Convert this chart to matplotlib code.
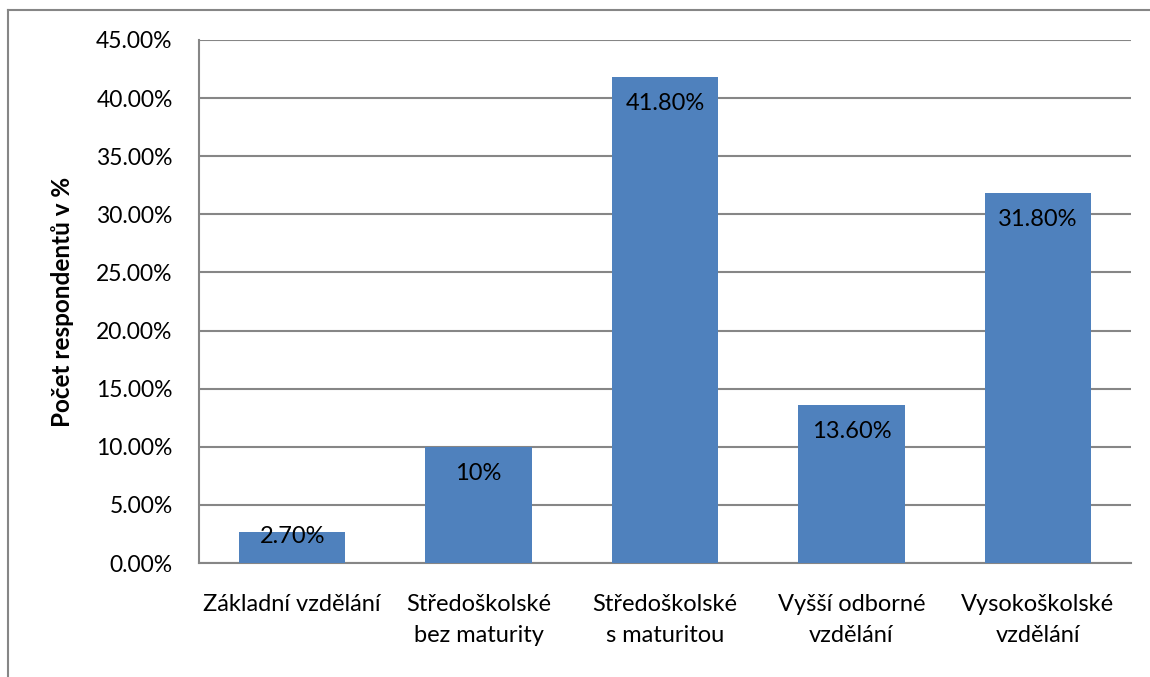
import matplotlib.pyplot as plt
from matplotlib.lines import Line2D
from matplotlib.ticker import FuncFormatter

kategorie = [
    "Základní vzdělání",
    "Středoškolské\nbez maturity",
    "Středoškolské\ns maturitou",
    "Vyšší odborné\nvzdělání",
    "Vysokoškolské\nvzdělání",
]
hodnoty = [2.7, 10.0, 41.8, 13.6, 31.8]
popisky = ["2.70%", "10%", "41.80%", "13.60%", "31.80%"]
y_ticky = [0, 5, 10, 15, 20, 25, 30, 35, 40, 45]

plt.rcParams["font.family"] = ["Lato", "DejaVu Sans"]

W, H = 1150, 677
fig = plt.figure(figsize=(W / 100, H / 100), dpi=100)
ax = fig.add_axes([199 / W, 1 - 563 / H, (1131 - 199) / W, (563 - 40) / H])

x = range(len(kategorie))
ax.bar(x, hodnoty, width=0.57, color="#4F81BD", zorder=3)

ax.set_xlim(-0.5, len(kategorie) - 0.5)
ax.set_ylim(0, 45)
ax.set_yticks(y_ticky)
ax.yaxis.set_major_formatter(FuncFormatter(lambda v, p: f"{v:.2f}%"))
ax.set_xticks(list(x))
ax.set_xticklabels(kategorie, fontsize=17, linespacing=1.6)

ax.tick_params(axis="y", length=0, pad=19, labelsize=16.5)
ax.tick_params(axis="x", length=0, pad=22)

ax.grid(axis="y", color="#868686", linewidth=1.5, zorder=0)
for strana in ["top", "right"]:
    ax.spines[strana].set_visible(False)
for strana in ["left", "bottom"]:
    ax.spines[strana].set_color("#868686")
    ax.spines[strana].set_linewidth(1.5)

ax.set_ylabel("Počet respondentů v %", fontsize=17.5, fontweight="bold", labelpad=16)

# popisky hodnot uvnitr sloupcu
for i, (v, t) in enumerate(zip(hodnoty, popisky)):
    posun = -19 if v > 5 else -3.5
    ax.annotate(t, (i, v), xytext=(0, posun), textcoords="offset points",
                ha="center", va="center", fontsize=17, color="black", zorder=4)

# ramecek grafu (vidi se jen levy a horni okraj)
fig.add_artist(Line2D([8 / W, 8 / W], [0, 1 - 10 / H], transform=fig.transFigure,
                      color="#868686", linewidth=1.5))
fig.add_artist(Line2D([8 / W, 1], [1 - 10 / H, 1 - 10 / H], transform=fig.transFigure,
                      color="#868686", linewidth=1.5))

fig.savefig("out.png", dpi=100)
